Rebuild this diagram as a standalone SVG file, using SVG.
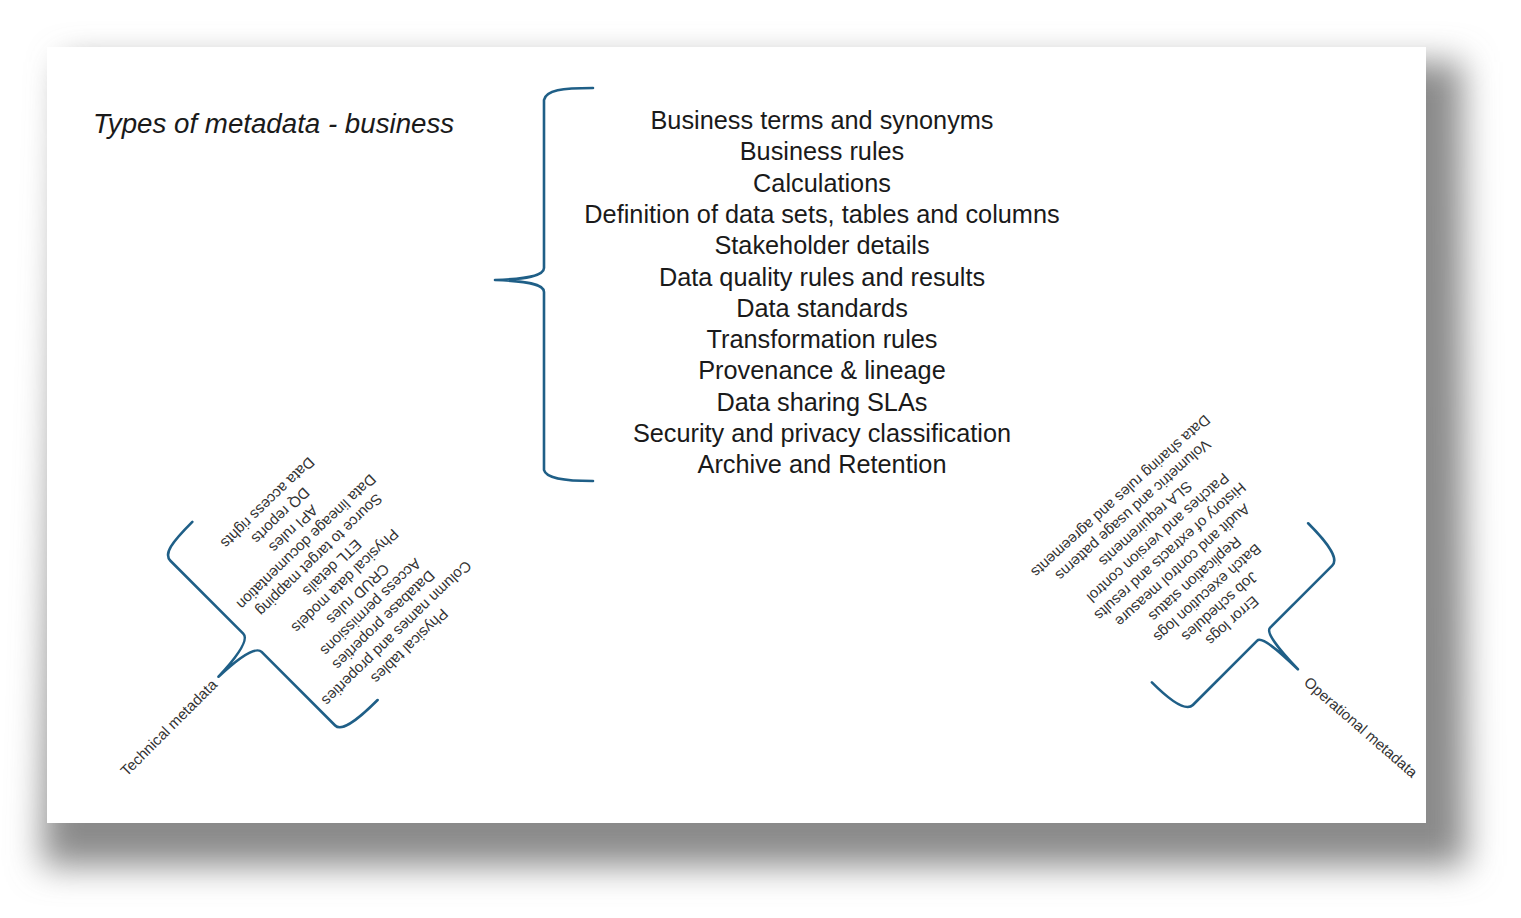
<svg xmlns="http://www.w3.org/2000/svg" width="1521" height="918" viewBox="0 0 1521 918">
<style>
.main{font-family:"Liberation Sans",Arial,sans-serif;font-size:25.3px;fill:#1a1a1a;text-anchor:middle}
.title{font-family:"Liberation Sans",Arial,sans-serif;font-size:27.7px;font-style:italic;fill:#1a1a1a}
.small{font-family:"Liberation Sans",Arial,sans-serif;font-size:15px;fill:#333;text-anchor:middle;dominant-baseline:central}
.brace{fill:none;stroke:#1f5f87;stroke-width:2.6;stroke-linecap:round;stroke-linejoin:round}
</style>
<defs>
<filter id="sh" x="-10%" y="-10%" width="120%" height="120%"><feGaussianBlur stdDeviation="17"/></filter>
</defs>
<rect width="1521" height="918" fill="#fff"/>
<polygon points="64,62 1462,62 1466,866 42,866" fill="#8a8a8a" filter="url(#sh)"/>
<rect x="47" y="47" width="1379" height="776" fill="#fff"/>

<g id="title"><text class="title" x="93" y="133">Types of metadata - business</text></g>

<g id="connectors">
<path class="brace" d="M593,88 C562,88 546,90 544,100 L544,268 C544,276 526,279 495,280 C526,281 544,284 544,292 L544,470 C546,478 562,481 593,481"/>
<path class="brace" transform="rotate(-45)" d="M-233,505 C-262,505 -276,507 -276,517 L-276,620 C-276,628 -295,632 -324,633 C-295,634 -276,638 -276,646 L-276,750 C-276,758 -262,762 -228,762"/>
<path class="brace" transform="rotate(-135)" d="M-1297,332 C-1327,332 -1342,336 -1342,345 L-1342,436 C-1342,442 -1362,444 -1391,444.5 C-1362,445 -1342,448 -1342,454 L-1342,542 C-1342,551 -1327,555 -1295,555"/>
</g>

<g id="business">
<text class="main" x="822" y="129">Business terms and synonyms</text>
<text class="main" x="822" y="160.3">Business rules</text>
<text class="main" x="822" y="191.6">Calculations</text>
<text class="main" x="822" y="222.9">Definition of data sets, tables and columns</text>
<text class="main" x="822" y="254.2">Stakeholder details</text>
<text class="main" x="822" y="285.5">Data quality rules and results</text>
<text class="main" x="822" y="316.8">Data standards</text>
<text class="main" x="822" y="348.1">Transformation rules</text>
<text class="main" x="822" y="379.4">Provenance &amp; lineage</text>
<text class="main" x="822" y="410.7">Data sharing SLAs</text>
<text class="main" x="822" y="442">Security and privacy classification</text>
<text class="main" x="822" y="473.3">Archive and Retention</text>
</g>

<g id="technical">
<text class="small" transform="translate(268,503) rotate(136)">Data access rights</text>
<text class="small" transform="translate(280.9,516) rotate(136)">DQ reports</text>
<text class="small" transform="translate(293.8,529.1) rotate(136)">API rules</text>
<text class="small" transform="translate(306.7,542.2) rotate(136)">Data lineage documentation</text>
<text class="small" transform="translate(319.6,555.2) rotate(136)">Source to target mapping</text>
<text class="small" transform="translate(332.5,568.2) rotate(136)">ETL details</text>
<text class="small" transform="translate(345.4,581.3) rotate(136)">Physical data models</text>
<text class="small" transform="translate(358.3,594.4) rotate(136)">CRUD rules</text>
<text class="small" transform="translate(371.2,607.4) rotate(136)">Access permissions</text>
<text class="small" transform="translate(384.1,620.4) rotate(136)">Database properties</text>
<text class="small" transform="translate(397,633.5) rotate(136)">Column names and properties</text>
<text class="small" transform="translate(409.9,646.5) rotate(136)">Physical tables</text>
<text class="small" transform="translate(168.5,727.5) rotate(-45)">Technical metadata</text>
</g>

<g id="operational">
<text class="small" transform="translate(1121,496.5) rotate(138)">Data sharing rules and agreements</text>
<text class="small" transform="translate(1133.4,510.3) rotate(138)">Volumetric and usage patterns</text>
<text class="small" transform="translate(1145.8,524.2) rotate(138)">SLA requirements</text>
<text class="small" transform="translate(1158.2,538) rotate(138)">Patches and version control</text>
<text class="small" transform="translate(1170.6,551.8) rotate(138)">History of extracts and results</text>
<text class="small" transform="translate(1182.9,565.7) rotate(138)">Audit and control measure</text>
<text class="small" transform="translate(1195.3,579.5) rotate(138)">Replication status</text>
<text class="small" transform="translate(1207.7,593.3) rotate(138)">Batch execution logs</text>
<text class="small" transform="translate(1220.1,607.1) rotate(138)">Job schedules</text>
<text class="small" transform="translate(1232.5,621) rotate(138)">Error logs</text>
<text class="small" transform="translate(1361,727) rotate(41)">Operational metadata</text>
</g>
</svg>
